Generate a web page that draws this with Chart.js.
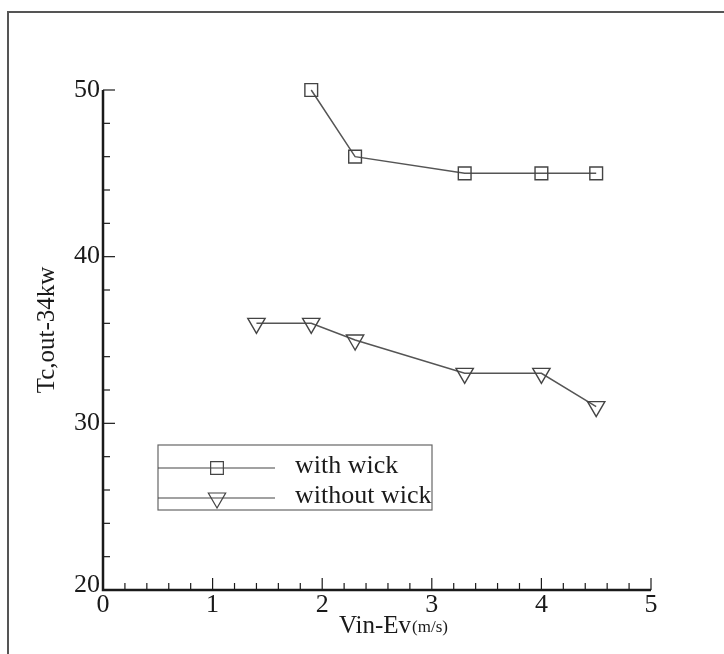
<!DOCTYPE html>
<html>
<head>
<meta charset="utf-8">
<script src="https://cdn.jsdelivr.net/npm/chart.js@4"></script>
<style>
  html, body { margin: 0; padding: 0; background: #fff; }
  #wrap { width: 724px; height: 654px; position: relative; }
</style>
</head>
<body>
<div id="wrap"><canvas id="chart" width="724" height="654"></canvas></div>
<script>
// data
const withWickX = [1.9, 2.3, 3.3, 4.0, 4.5];
const withWickY = [50, 46, 45, 45, 45];
const withoutWickX = [1.4, 1.9, 2.3, 3.3, 4.0, 4.5];
const withoutWickY = [36, 36, 35, 33, 33, 31];
const seriesNames = ['with wick', 'without wick'];
const xTicks = [0, 1, 2, 3, 4, 5];
const yTicks = [20, 30, 40, 50];

const SERIF = "'Liberation Serif', 'Times New Roman', serif";
const INK = '#1a1a1a';

function toPoints(xs, ys) {
  return xs.map((x, i) => ({ x, y: ys[i] }));
}

/**
 * Frame, axis lines, inward ticks, titles and boxed legend
 */
const decorPlugin = {
  id: 'decor',
  afterDraw(chart) {
    const ctx = chart.ctx;
    const xs = chart.scales.x;
    const ys = chart.scales.y;
    const area = chart.chartArea;
    ctx.save();

    // outer frame (top + left only visible)
    ctx.strokeStyle = '#555';
    ctx.lineWidth = 2;
    ctx.beginPath();
    ctx.moveTo(8, 660);
    ctx.lineTo(8, 12);
    ctx.lineTo(730, 12);
    ctx.stroke();

    // axis lines
    ctx.strokeStyle = INK;
    ctx.lineWidth = 2.5;
    ctx.beginPath();
    ctx.moveTo(area.left, area.top);
    ctx.lineTo(area.left, area.bottom);
    ctx.lineTo(area.right, area.bottom);
    ctx.stroke();

    // x ticks every 0.2, pointing up
    ctx.lineWidth = 1.2;
    for (let i = 1; i <= 25; i++) {
      const px = xs.getPixelForValue(i * 0.2);
      const len = i % 5 === 0 ? 12 : 7;
      ctx.beginPath();
      ctx.moveTo(px, area.bottom);
      ctx.lineTo(px, area.bottom - len);
      ctx.stroke();
    }
    // y ticks every 2, pointing right
    for (let v = 22; v <= 50; v += 2) {
      const py = ys.getPixelForValue(v);
      const len = v % 10 === 0 ? 12 : 7;
      ctx.beginPath();
      ctx.moveTo(area.left, py);
      ctx.lineTo(area.left + len, py);
      ctx.stroke();
    }

    // tick labels
    ctx.fillStyle = INK;
    ctx.font = '26px ' + SERIF;
    ctx.textAlign = 'center';
    ctx.textBaseline = 'top';
    xTicks.forEach(v => ctx.fillText(String(v), xs.getPixelForValue(v), area.bottom + 2));
    ctx.textAlign = 'right';
    ctx.textBaseline = 'middle';
    yTicks.forEach(v => {
      const off = v === 20 ? -5 : 0;
      ctx.fillText(String(v), area.left - 3, ys.getPixelForValue(v) + off);
    });

    // x title with small unit
    ctx.textBaseline = 'alphabetic';
    ctx.textAlign = 'left';
    const main = 'Vin-Ev';
    const unit = '(m/s)';
    ctx.font = '17px ' + SERIF;
    const uw = ctx.measureText(unit).width;
    ctx.font = '25px ' + SERIF;
    const mw = ctx.measureText(main).width;
    const tx = 393 - (mw + uw) / 2;
    ctx.fillText(main, tx, 633);
    ctx.font = '17px ' + SERIF;
    ctx.fillText(unit, tx + mw + 1, 632);

    // y title
    ctx.save();
    ctx.translate(47, 330);
    ctx.rotate(-Math.PI / 2);
    ctx.font = '25px ' + SERIF;
    ctx.textAlign = 'center';
    ctx.textBaseline = 'middle';
    ctx.fillText('Tc,out-34kw', 0, 0);
    ctx.restore();

    // legend box
    ctx.strokeStyle = '#666';
    ctx.lineWidth = 1.2;
    ctx.strokeRect(158, 445, 274, 65);
    const rows = [
      { y: 468, style: 'rect', rot: 0 },
      { y: 498, style: 'triangle', rot: 180 }
    ];
    rows.forEach((r, i) => {
      ctx.strokeStyle = '#444';
      ctx.lineWidth = 1.2;
      ctx.beginPath();
      ctx.moveTo(158, r.y);
      ctx.lineTo(275, r.y);
      ctx.stroke();
      ctx.fillStyle = 'rgba(255,255,255,0)';
      Chart.helpers.drawPoint(ctx, {
        pointStyle: r.style, radius: r.style === 'rect' ? 9 : 10, rotation: r.rot, borderWidth: 1.3
      }, 217, r.y);
      ctx.fillStyle = INK;
      ctx.font = '26px ' + SERIF;
      ctx.textAlign = 'left';
      ctx.textBaseline = 'middle';
      ctx.fillText(seriesNames[i], 295, r.y - 2);
    });

    ctx.restore();
  }
};

const markerCommon = {
  showLine: true,
  clip: false,
  borderColor: '#555',
  borderWidth: 1.5,
  pointBackgroundColor: 'rgba(255,255,255,0)',
  pointBorderColor: '#444',
  pointBorderWidth: 1.4,
  tension: 0
};

new Chart(document.getElementById('chart'), {
  type: 'scatter',
  data: {
    datasets: [
      Object.assign({}, markerCommon, {
        label: seriesNames[0],
        data: toPoints(withWickX, withWickY),
        pointStyle: 'rect',
        pointRadius: 9
      }),
      Object.assign({}, markerCommon, {
        label: seriesNames[1],
        data: toPoints(withoutWickX, withoutWickY),
        pointStyle: 'triangle',
        pointRotation: 180,
        pointRadius: 10
      })
    ]
  },
  options: {
    responsive: false,
    animation: false,
    layout: { padding: { left: 103, right: 73, top: 90, bottom: 64 } },
    scales: {
      x: {
        type: 'linear', min: 0, max: 5,
        grid: { display: false, drawTicks: false },
        border: { display: false },
        ticks: { display: false }
      },
      y: {
        type: 'linear', min: 20, max: 50,
        grid: { display: false, drawTicks: false },
        border: { display: false },
        ticks: { display: false }
      }
    },
    plugins: {
      legend: { display: false },
      tooltip: { enabled: false }
    }
  },
  plugins: [decorPlugin]
});
</script>
</body>
</html>
